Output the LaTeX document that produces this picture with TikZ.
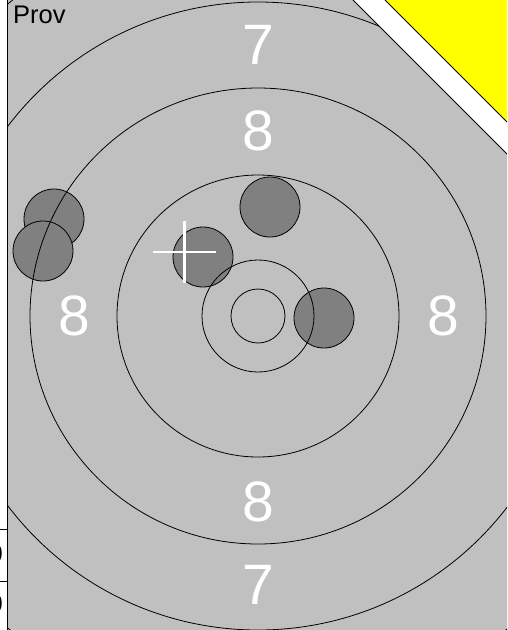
\documentclass[tikz,border=0pt]{standalone}
\usepackage{fontspec}
\setmainfont{Liberation Sans}
\definecolor{facegray}{RGB}{192,192,192}
\definecolor{hitgray}{RGB}{128,128,128}
\definecolor{signyellow}{RGB}{255,255,0}
\usetikzlibrary{positioning}

\begin{document}
\begin{tikzpicture}[x=1pt, y=-1pt,
    ring/.style={draw=black, line width=0.8pt},
    hit/.style={circle, fill=hitgray, draw=black, line width=0.8pt, minimum size=60pt, inner sep=0pt},
    score/.style={text=white, inner sep=0pt, font=\fontsize{57}{62}\selectfont},
    label/.style={inner sep=0pt, font=\fontsize{25.5}{30}\selectfont}]
    \useasboundingbox (0,0) rectangle (507,630);
    \clip (0,0) rectangle (507,630);
    \fill[white] (0,0) rectangle (507,630);

    % Target face, cut off by the corner
    \coordinate (centre) at (258,316);
    \fill[facegray] (7.5,0) -- (353,0) -- (507,154) -- (507,630) -- (7.5,630) -- cycle;
    \begin{scope}
        \clip (7.5,0) -- (353,0) -- (507,154) -- (507,630) -- (7.5,630) -- cycle;

        % Shots
        \node[hit] (shotA) at (54,219) {};
        \node[hit] (shotB) at (43,251) {};
        \node[hit] (shotC) at (270,207) {};
        \node[hit] (shotD) at (203,257) {};
        \node[hit] (shotE) at (324,318) {};

        % Rings
        \foreach \r in {27,56,141,228,314,400}
            \draw[ring] (centre) circle[radius=\r pt];

        % Aim mark
        \coordinate (aim) at (184.3,252);
        \draw[white, line width=2.5pt] ([xshift=-31.5pt]aim) -- ([xshift=31.5pt]aim);
        \draw[white, line width=2.5pt] ([yshift=31pt]aim) -- ([yshift=-31pt]aim);

        % Ring values
        \node[score] (top7) at (258,44.5) {7};
        \node[score] (top8) at (258,131) {8};
        \node[score] (left8) at (74,316) {8};
        \node[score] (right8) at (443,316) {8};
        \node[score] (bottom8) at (258,502) {8};
        \node[score] (bottom7) at (258,584.5) {7};
    \end{scope}

    % Corner sign
    \fill[signyellow] (385,0) -- (507,0) -- (507,122) -- cycle;
    \draw[line width=0.8pt] (353,0) -- (507,154);
    \draw[line width=0.8pt] (385,0) -- (507,122);

    % Left edge with the table beside it
    \draw[line width=1pt] (7,0) -- (7,630);
    \draw[line width=0.8pt] (0,529) -- (7,529);
    \draw[line width=0.8pt] (0,581) -- (7,581);
    \node[label, anchor=east] (rowA) at (3,554) {0};
    \node[label, anchor=east] (rowB) at (3,604) {0};

    \node[label, anchor=base west] (title) at (13,23.5) {Prov};
\end{tikzpicture}
\end{document}
